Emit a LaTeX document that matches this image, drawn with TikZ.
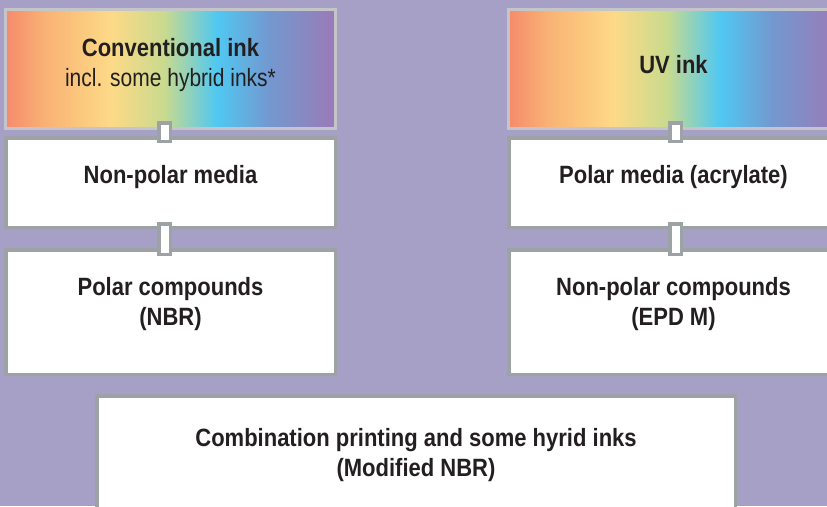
\documentclass[tikz,border=0pt]{standalone}
\usepackage{fontspec}
\setmainfont{Liberation Sans}[UprightFeatures={FakeStretch=0.84},
    BoldFeatures={FakeStretch=0.88}]
\usepackage{xcolor}
\usepackage{tikz}
\usetikzlibrary{positioning, calc}
\definecolor{backdrop}{HTML}{A7A0C6}
\definecolor{boxline}{HTML}{9DA2A4}
\definecolor{gradline}{HTML}{C3C5C8}
\definecolor{inktext}{HTML}{231F20}
\definecolor{ink1}{HTML}{F58B6C}
\definecolor{ink2}{HTML}{F9B274}
\definecolor{ink3}{HTML}{FDDA87}
\definecolor{ink4}{HTML}{C9DA8E}
\definecolor{ink5}{HTML}{50C8F2}
\definecolor{ink6}{HTML}{7398CF}
\definecolor{ink7}{HTML}{9B7AB7}
\pgfdeclarehorizontalshading{rainbowink}{100bp}{color(0bp)=(ink1); color(25bp)=(ink1);
  color(31bp)=(ink2); color(41bp)=(ink3); color(49bp)=(ink4); color(57bp)=(ink5);
  color(65bp)=(ink6); color(75bp)=(ink7); color(100bp)=(ink7)}

\begin{document}
\begin{tikzpicture}[x=1pt, y=-1pt,
    inkbox/.style={shading=rainbowink, draw=gradline, line width=3pt, inner sep=0pt,
        minimum width=330pt, minimum height=119pt},
    whitebox/.style={fill=white, draw=boxline, line width=3.5pt, inner sep=0pt,
        minimum width=329.5pt},
    boxtext/.style={font=\fontsize{25}{30}\selectfont\bfseries, text=inktext,
        align=center, inner sep=0pt},
    link/.style={fill=white, draw=boxline, line width=3.5pt}]
    % --- Purple background ---
    \useasboundingbox (0,0) rectangle (827,506);
    \clip (0,0) rectangle (827,506);
    \fill[backdrop] (0,0) rectangle (827,506);
    % --- Conventional ink column ---
    \node[inkbox] (conv) at (170.5,69) {};
    \node[whitebox, minimum height=89.5pt] (nonpolarm) at (170.5,182.5) {};
    \node[whitebox, minimum height=124.5pt] (polarc) at (170.5,312) {};
    \node[boxtext, below=30pt of conv.north] (convtext)
        {Conventional ink\\{\mdseries incl. some hybrid inks*}};
    \node[boxtext, below=29pt of nonpolarm.north] (nonpolarmtext) {Non-polar media};
    \node[boxtext, below=29pt of polarc.north] (polarctext) {Polar compounds\\(NBR)};
    \draw[link] ([xshift=-11.75pt, yshift=7.25pt]conv.south)
        rectangle ([xshift=-0.25pt, yshift=-5.25pt]nonpolarm.north);
    \draw[link] ([xshift=-11.75pt, yshift=5.25pt]nonpolarm.south)
        rectangle ([xshift=-0.25pt, yshift=-6.25pt]polarc.north);
    % --- UV ink column ---
    \node[inkbox] (uv) at (673.5,69) {};
    \node[whitebox, minimum height=89.5pt] (polarm) at (673.5,182.5) {};
    \node[whitebox, minimum height=124.5pt] (nonpolarc) at (673.5,312) {};
    \node[boxtext, below=47pt of uv.north] (uvtext) {UV ink};
    \node[boxtext, below=29pt of polarm.north] (polarmtext) {Polar media (acrylate)};
    \node[boxtext, below=29pt of nonpolarc.north] (nonpolarctext)
        {Non-polar compounds\\(EPD M)};
    \draw[link] ([xshift=-3.75pt, yshift=7.25pt]uv.south)
        rectangle ([xshift=7.75pt, yshift=-5.25pt]polarm.north);
    \draw[link] ([xshift=-3.75pt, yshift=5.25pt]polarm.south)
        rectangle ([xshift=7.75pt, yshift=-6.25pt]nonpolarc.north);
    % --- Combination box ---
    \node[whitebox, minimum width=638.5pt, minimum height=150pt, anchor=north]
        (combi) at (416,394) {};
    \node[boxtext, below=34pt of combi.north] (combitext)
        {Combination printing and some hyrid inks\\(Modified NBR)};
\end{tikzpicture}
\end{document}
